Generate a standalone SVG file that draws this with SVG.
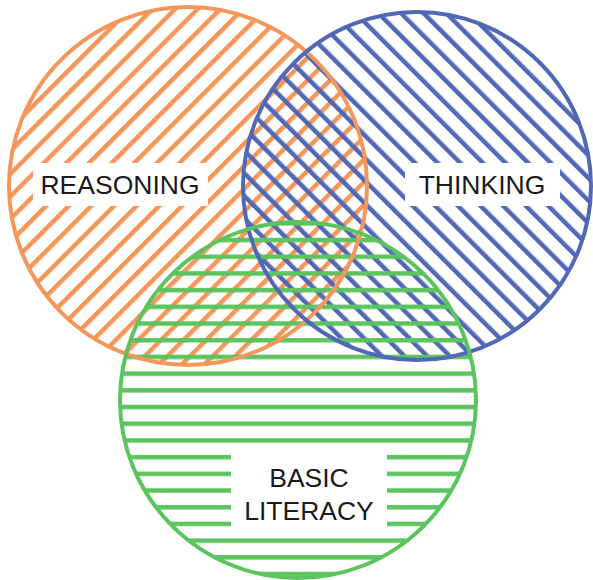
<svg xmlns="http://www.w3.org/2000/svg" width="593" height="580" viewBox="0 0 593 580">
<defs>
<pattern id="pOrange" patternUnits="userSpaceOnUse" width="16" height="16" patternTransform="rotate(45)">
<rect x="0" y="0" width="4.5" height="16" fill="#f5965a"/>
</pattern>
<pattern id="pBlue" patternUnits="userSpaceOnUse" width="16" height="16" patternTransform="rotate(-45)">
<rect x="0" y="0" width="4.5" height="16" fill="#5068b6"/>
</pattern>
<pattern id="pGreen" patternUnits="userSpaceOnUse" width="16.7" height="16.7">
<rect x="0" y="4" width="16.7" height="4.5" fill="#5cc45f"/>
</pattern>
</defs>
<style>
.lbl{fill:#ffffff;stroke:none}
.txt{font-family:"Liberation Sans",Arial,sans-serif;font-size:26.5px;fill:#1a1a1a;text-anchor:middle}
.ring{fill:none;stroke-width:4}
</style>
<rect width="593" height="580" fill="#ffffff"/>
<g id="fills">
<circle cx="188" cy="186" r="179" fill="url(#pOrange)"/>
<circle cx="417" cy="186" r="174" fill="url(#pBlue)"/>
<circle cx="298" cy="400" r="178" fill="url(#pGreen)"/>
</g>
<g id="reasoning">
<circle class="ring" cx="188" cy="186" r="179" stroke="#f5965a"/>
</g>
<g id="thinking">
<circle class="ring" cx="417" cy="186" r="174" stroke="#5068b6"/>
</g>
<g id="basic-literacy">
<circle class="ring" cx="298" cy="400" r="178" stroke="#5cc45f"/>
</g>
<g id="labels">
<rect class="lbl" x="33" y="163" width="175" height="43"/>
<text class="txt" x="120" y="194">REASONING</text>
<rect class="lbl" x="405" y="163" width="155" height="43"/>
<text class="txt" x="482" y="194">THINKING</text>
<rect class="lbl" x="231" y="454" width="156" height="77"/>
<text class="txt" x="309" y="487">BASIC</text>
<text class="txt" x="309" y="520">LITERACY</text>
</g>
</svg>
